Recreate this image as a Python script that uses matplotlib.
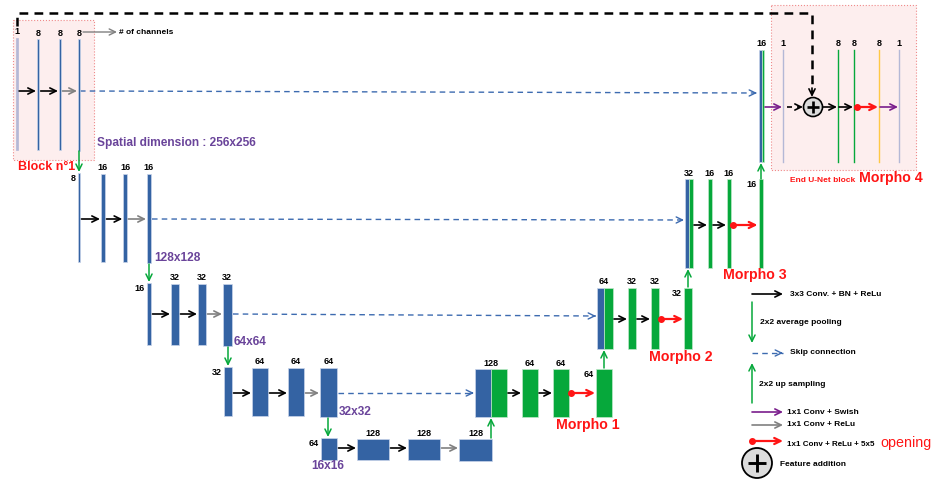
import matplotlib.pyplot as plt
from matplotlib.patches import Rectangle, Circle

plt.rcParams['font.family'] = ['Liberation Sans', 'DejaVu Sans']

# channel counts shown above each feature map
enc1_ch = ['1', '8', '8', '8']
enc2_ch = ['8', '16', '16', '16']
enc3_ch = ['16', '32', '32', '32']
enc4_ch = ['32', '64', '64', '64']
bott_ch = ['64', '128', '128', '128']
dec4_ch = ['128', '64', '64', '64']
dec3_ch = ['64', '32', '32', '32']
dec2_ch = ['32', '16', '16', '16']
dec1_ch = ['16', '1', '8', '8', '8', '1']
sizes = ['Spatial dimension : 256x256', '128x128', '64x64', '32x32', '16x16']
morpho = ['Morpho 1', 'Morpho 2', 'Morpho 3', 'Morpho 4']
legend_txt = ['3x3 Conv. + BN + ReLu', '2x2 average pooling', 'Skip connection',
              '2x2 up sampling', '1x1 Conv + Swish', '1x1 Conv + ReLu',
              '1x1 Conv + ReLu + 5x5', 'opening', 'Feature addition']

BLUE = '#3463a3'
GREEN = '#06a83b'
LAV = '#b4b8d6'
YEL = '#ffc845'
PURPLE = '#6a449a'
ARROW_PURPLE = '#7a1e8c'
RED = '#ff1515'
GRAY = '#808080'
SKIP = '#3d6bb0'
EDGES = {BLUE: '#c9d5ea', GREEN: '#bfe8c9', LAV: LAV}

fig = plt.figure(figsize=(9.35, 4.83), dpi=100)
ax = fig.add_axes([0, 0, 1, 1])
ax.set_xlim(0, 935)
ax.set_ylim(483, 0)
ax.axis('off')

LBL = 6.5
LEG = 6


def bar(x0, w, y0, y1, color, label=None, where='top', z=3):
    ax.add_patch(Rectangle((x0, y0), w, y1 - y0, fc=color, ec=EDGES[color], lw=0.5, zorder=z))
    if label is None:
        return
    if where == 'top':
        ax.text(x0 + w / 2, y0 - 1.5, label, ha='center', va='bottom', fontsize=LBL, fontweight='bold', zorder=5)
    else:
        ax.text(x0 - 2, y0 + 1, label, ha='right', va='top', fontsize=LBL, fontweight='bold', zorder=5)


def arrow(x0, y0, x1, y1, color, lw=1.2, dot=False):
    ax.annotate('', xy=(x1, y1), xytext=(x0, y0),
                arrowprops=dict(arrowstyle='->,head_length=0.45,head_width=0.22', color=color, lw=lw,
                                shrinkA=0, shrinkB=0), zorder=4)
    if dot:
        ax.plot([x0], [y0], 'o', color=color, ms=4, zorder=4)


def dashed(x0, y0, x1, y1, color, lw=1.0, dash=(4, 3)):
    ax.plot([x0, x1], [y0, y1], color=color, lw=lw, dashes=dash, zorder=2)
    dx, dy = x1 - x0, y1 - y0
    n = (dx * dx + dy * dy) ** 0.5
    arrow(x1 - 3 * dx / n, y1 - 3 * dy / n, x1, y1, color, lw=lw)


def plus(cx, cy, r, lw):
    ax.add_patch(Circle((cx, cy), r, fc='#dcdcdc', ec='black', lw=lw, zorder=5))
    k = r * 0.6
    ax.plot([cx - k, cx + k], [cy, cy], color='black', lw=lw * 1.6, zorder=6, solid_capstyle='butt')
    ax.plot([cx, cx], [cy - k, cy + k], color='black', lw=lw * 1.6, zorder=6, solid_capstyle='butt')


# pink blocks
ax.add_patch(Rectangle((13, 20), 81, 140, fc='#fdeeee', ec='#f08a8a', lw=0.8, ls=':', zorder=0))
ax.add_patch(Rectangle((771, 5), 145, 165, fc='#fdeeee', ec='#f08a8a', lw=0.8, ls=':', zorder=0))

# top feature-addition dashed path
ax.plot([17, 17, 812, 812], [26, 13, 13, 92], color='black', lw=1.8, dashes=(3.5, 2.5), zorder=2)
arrow(812, 88, 812, 97, 'black', lw=1.2)

# ---------------- encoder ----------------
enc_rows = [91, 219, 314, 393, 448]
enc_geo = [
    ([16.4, 37, 59, 78], [1.2, 2.2, 2, 2.2], 38, 150, [LAV, BLUE, BLUE, BLUE]),
    ([78, 101, 123.3, 147], [2, 4, 3.5, 4], 173, 262, [BLUE] * 4),
    ([147, 171, 198, 223], [4, 8, 8, 8.5], 283, 345, [BLUE] * 4),
    ([224, 252, 288, 320], [8, 16, 16, 17], 367, 416, [BLUE] * 4),
    ([321, 357, 408, 459], [16, 32, 32, 33], 438, 460, [BLUE] * 4),
]
enc_ch = [enc1_ch, enc2_ch, enc3_ch, enc4_ch, bott_ch]
for lvl, ((xs, ws, y0, y1, cols), chs, yr) in enumerate(zip(enc_geo, enc_ch, enc_rows)):
    for i, (x, w, c, ch) in enumerate(zip(xs, ws, cols, chs)):
        where = 'left' if (i == 0 and lvl > 0) else 'top'
        bar(x, w, y0 + (1 if i else 0), y1 + (1 if i == 3 else 0), c, ch, where)
    acol = ['black', 'black', GRAY]
    for i in range(3):
        arrow(xs[i] + ws[i] + 1.5, yr, xs[i + 1] - 1, yr, acol[i])

# size labels
SZ = 8.6
ax.text(97, 143, sizes[0], fontsize=SZ, fontweight='bold', color=PURPLE, va='center')
ax.text(154, 258, sizes[1], fontsize=SZ, fontweight='bold', color=PURPLE, va='center')
ax.text(234, 342, sizes[2], fontsize=SZ, fontweight='bold', color=PURPLE, va='center')
ax.text(339, 412, sizes[3], fontsize=SZ, fontweight='bold', color=PURPLE, va='center')
ax.text(311, 466, sizes[4], fontsize=SZ, fontweight='bold', color=PURPLE, va='center')
ax.text(18, 167, 'Block n°1', fontsize=9, fontweight='bold', color=RED, va='center')

# pooling arrows
for x, y0, y1 in [(79, 151, 172), (149, 264, 282), (228, 347, 366), (328, 418, 437)]:
    arrow(x, y0, x, y1, GREEN, lw=1.1)

# # of channels pointer
arrow(83, 32, 117, 32, GRAY, lw=1.0)
ax.text(119, 32, '# of channels', fontsize=LEG, fontweight='bold', va='center')

# ---------------- decoder ----------------
# (blue x, blue w, green w, conv bars x, conv w, top, bottom, arrow row)
dec_geo = [
    (475, 16, 16, [522, 553, 596], 16, 369, 417, 393),
    (597, 7, 9, [628, 651, 684], 8, 288, 349, 319),
    (685, 4, 4, [708, 727, 758.5], 4, 179, 268, 225),
]
dec_ch = [dec4_ch, dec3_ch, dec2_ch]
for (bx, bw, cw, gxs, gw, y0, y1, yr), chs in zip(dec_geo, dec_ch):
    bar(bx, bw, y0, y1, BLUE)
    bar(bx + bw, cw, y0, y1, GREEN)
    ax.text(bx + bw, y0 - 1.5, chs[0], ha='center', va='bottom', fontsize=LBL, fontweight='bold')
    for i, x in enumerate(gxs):
        bar(x, gw, y0, y1, GREEN, chs[i + 1], 'left' if i == 2 else 'top')
    right = [bx + bw + cw, gxs[0] + gw, gxs[1] + gw]
    arrow(right[0] + 1, yr, gxs[0] - 1, yr, 'black')
    arrow(right[1] + 1, yr, gxs[1] - 1, yr, 'black')
    arrow(right[2] + 2, yr, gxs[2] - 1, yr, RED, lw=1.6, dot=True)

MF = 10.2
ax.text(556, 425, morpho[0], fontsize=MF, fontweight='bold', color=RED, va='center')
ax.text(649, 357, morpho[1], fontsize=MF, fontweight='bold', color=RED, va='center')
ax.text(723, 275, morpho[2], fontsize=MF, fontweight='bold', color=RED, va='center')
ax.text(859, 178, morpho[3], fontsize=MF, fontweight='bold', color=RED, va='center')
ax.text(790, 180, 'End U-Net block', fontsize=LEG, fontweight='bold', color=RED, va='center')

# upsampling arrows
for x, y0, y1 in [(491, 438, 418), (604, 368, 350), (688, 287, 269), (761, 179, 163)]:
    arrow(x, y0, x, y1, GREEN, lw=1.1)

# skip connections
dashed(80, 91, 757, 93, SKIP)
dashed(152, 219, 684, 220, SKIP)
dashed(233, 314, 596, 316, SKIP)
dashed(338, 393, 474, 393, SKIP)

# ---------------- end block ----------------
bar(759, 2.5, 50, 162, BLUE)
bar(761.5, 2.5, 50, 162, GREEN)
ax.text(762, 48.5, dec1_ch[0], ha='center', va='bottom', fontsize=LBL, fontweight='bold')
end_x = [783, 838, 854, 879, 899]
end_c = [LAV, GREEN, GREEN, YEL, LAV]
for x, c, ch in zip(end_x, end_c, dec1_ch[1:]):
    ax.plot([x, x], [50, 162], color=c, lw=1.0, zorder=3)
    ax.text(x, 48.5, ch, ha='center', va='bottom', fontsize=LBL, fontweight='bold')
arrow(765, 107, 782, 107, ARROW_PURPLE)
ax.plot([787, 800], [107, 107], color='black', lw=1.2, dashes=(3, 3), zorder=2)
arrow(799, 107, 803, 107, 'black')
plus(813, 107, 9.5, 1.2)
arrow(823, 107, 837, 107, 'black')
arrow(839, 107, 853, 107, 'black')
arrow(857, 107, 878, 107, RED, lw=1.6, dot=True)
arrow(880, 107, 898, 107, ARROW_PURPLE)

# ---------------- legend ----------------
arrow(752, 294, 783, 294, 'black')
ax.text(790, 294, legend_txt[0], fontsize=LEG, fontweight='bold', va='center')
arrow(752, 302, 752, 343, GREEN, lw=1.1)
ax.text(760, 323, legend_txt[1], fontsize=LEG, fontweight='bold', va='center')
dashed(752, 353, 783, 353, SKIP)
ax.text(790, 353, legend_txt[2], fontsize=LEG, fontweight='bold', va='center')
arrow(752, 403, 752, 363, GREEN, lw=1.1)
ax.text(759, 384, legend_txt[3], fontsize=LEG, fontweight='bold', va='center')
arrow(752, 412, 783, 412, ARROW_PURPLE)
ax.text(787, 412, legend_txt[4], fontsize=LEG, fontweight='bold', va='center')
arrow(752, 425, 783, 425, GRAY)
ax.text(787, 425, legend_txt[5], fontsize=LEG, fontweight='bold', va='center')
arrow(752, 441, 783, 441, RED, lw=1.6, dot=True)
ax.text(787, 445, legend_txt[6], fontsize=5.8, fontweight='bold', va='center')
ax.text(880, 443, legend_txt[7], fontsize=10.3, color=RED, va='center')
plus(757, 463, 15, 1.3)
ax.text(780, 465, legend_txt[8], fontsize=LEG, fontweight='bold', va='center')

fig.savefig('out.png', dpi=100)
